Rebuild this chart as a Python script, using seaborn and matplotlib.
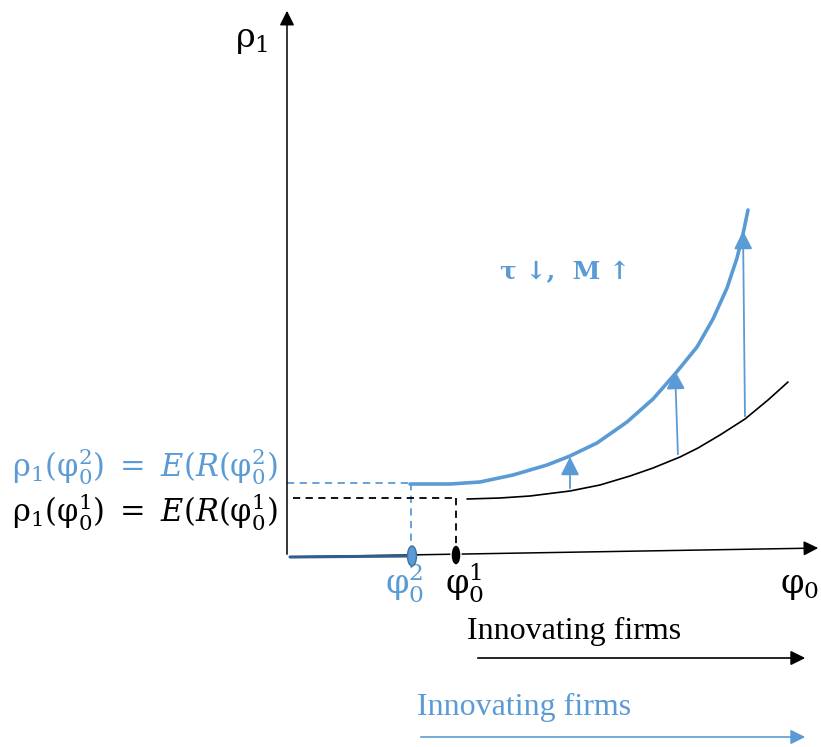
import matplotlib
matplotlib.use("Agg")
import matplotlib.pyplot as plt
import seaborn as sns
from matplotlib.patches import Ellipse

# curves (origin = corner of the two axes, 1 unit ~ 1 px)
blue_x = [123, 163, 193, 226, 260, 283, 310, 340, 366, 388, 410, 426, 440, 450, 456, 461]
blue_y = [73, 73, 75, 82, 92, 101, 114, 135, 158, 183, 210, 238, 269, 299, 323, 347]
black_x = [180, 213, 243, 283, 313, 343, 366, 393, 411, 433, 458, 481, 501]
black_y = [58, 59, 61, 66, 72, 81, 89, 100, 109, 122, 138, 157, 175]

# shift arrows: start on black curve, end on blue curve
shift_x0 = [283, 391, 458]
shift_y0 = [66, 100, 138]
shift_x1 = [283, 388, 456]
shift_y1 = [103, 189, 329]

# thresholds
phi_blue, rho_blue = 124, 74
phi_black, rho_black = 169, 59

BLUE = "#5B9BD5"
BLACK = "#000000"

sns.set_theme(style="white")
plt.rcParams["mathtext.fontset"] = "custom"
plt.rcParams["mathtext.rm"] = "DejaVu Serif"
plt.rcParams["mathtext.it"] = "DejaVu Serif:italic"

fig = plt.figure(figsize=(8.21, 7.47), dpi=100)
ax = fig.add_axes([0, 0, 1, 1])
ax.set_xlim(-287, 534)
ax.set_ylim(-190, 557)
ax.axis("off")

# axes of the diagram
ax.annotate("", xy=(0, 549), xytext=(0, 0),
            arrowprops=dict(arrowstyle="-|>", color=BLACK, lw=1.1, mutation_scale=22))
ax.annotate("", xy=(534, 9), xytext=(0, 0),
            arrowprops=dict(arrowstyle="-|>", color=BLACK, lw=1.1, mutation_scale=22))
ax.plot([3, phi_blue], [0, 1], color="#2E5E8C", lw=2.2, zorder=3)

# curves
sns.lineplot(x=blue_x, y=blue_y, sort=False, estimator=None, color=BLUE, lw=2.6, ax=ax)
sns.lineplot(x=black_x, y=black_y, sort=False, estimator=None, color=BLACK, lw=1.2, ax=ax)

# upward shifts
for x0, y0, x1, y1 in zip(shift_x0, shift_y0, shift_x1, shift_y1):
    ax.annotate("", xy=(x1, y1), xytext=(x0, y0),
                arrowprops=dict(arrowstyle="-|>", color=BLUE, lw=1.3, mutation_scale=28))

# dashed guides
ax.plot([0, phi_blue], [rho_blue, rho_blue], ls=(0, (4, 3)), color=BLUE, lw=1.3)
ax.plot([phi_blue, phi_blue], [rho_blue, 9], ls=(0, (4, 3)), color=BLUE, lw=1.3)
ax.plot([6, phi_black], [rho_black, rho_black], ls=(0, (4, 3)), color=BLACK, lw=1.3)
ax.plot([phi_black, phi_black], [rho_black, 9], ls=(0, (4, 3)), color=BLACK, lw=1.3)

# threshold markers
ax.add_patch(Ellipse((phi_blue + 1, 1), 9, 20, facecolor=BLUE, edgecolor="#41719C", lw=1, zorder=4))
ax.add_patch(Ellipse((phi_black, 2), 10, 20, facecolor=BLACK, zorder=4))

# labels
ax.text(-35, 517, r"$\mathrm{\rho}_1$", fontsize=24, color=BLACK, ha="center", va="center")
ax.text(513, -28, r"$\mathrm{\varphi}_0$", fontsize=24, color=BLACK, ha="center", va="center")
ax.text(118, -26, r"$\mathrm{\varphi}_0^2$", fontsize=24, color=BLUE, ha="center", va="center")
ax.text(178, -26, r"$\mathrm{\varphi}_0^1$", fontsize=24, color=BLACK, ha="center", va="center")
ax.text(-275, 90, r"$\mathrm{\rho}_1(\mathrm{\varphi}_0^2)\ =\ E(R(\mathrm{\varphi}_0^2)$",
        fontsize=22, color=BLUE, ha="left", va="center")
ax.text(-275, 45, r"$\mathrm{\rho}_1(\mathrm{\varphi}_0^1)\ =\ E(R(\mathrm{\varphi}_0^1)$",
        fontsize=22, color=BLACK, ha="left", va="center")
ax.text(278, 285, "τ ↓,  M ↑", fontsize=18, fontweight="bold", family="DejaVu Serif",
        color=BLUE, ha="center", va="center")

# innovating firms ranges
ax.text(180, -74, "Innovating firms", fontsize=23, family="Liberation Serif",
        color=BLACK, ha="left", va="center")
ax.annotate("", xy=(521, -101), xytext=(188, -101),
            arrowprops=dict(arrowstyle="-|>", color=BLACK, lw=1.2, mutation_scale=22))
ax.text(130, -150, "Innovating firms", fontsize=23, family="Liberation Serif",
        color=BLUE, ha="left", va="center")
ax.annotate("", xy=(521, -180), xytext=(131, -180),
            arrowprops=dict(arrowstyle="-|>", color=BLUE, lw=1.2, mutation_scale=22))

fig.savefig("out.png", dpi=100)
